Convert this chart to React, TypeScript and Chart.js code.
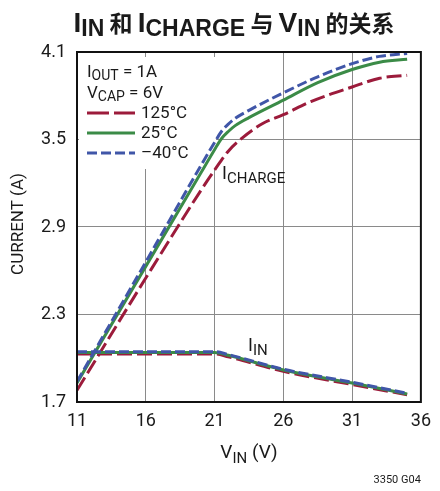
import React, { useEffect, useRef } from "react";
import { Chart, registerables } from "chart.js";

Chart.register(...registerables);

// ---------- data ----------
const xTicks = [11, 16, 21, 26, 31, 36];
const yTicks = [1.7, 2.3, 2.9, 3.5, 4.1];

// I_CHARGE vs V_IN
const chargeX125 = [11, 16, 20, 21, 22, 23, 24.5, 26, 28, 31, 33, 35];
const charge125 = [1.78, 2.55, 3.15, 3.29, 3.42, 3.51, 3.61, 3.67, 3.76, 3.86, 3.92, 3.94];
const chargeX25 = [11, 16, 20, 21, 21.5, 22, 22.5, 23.5, 26, 28.5, 31, 33, 35];
const charge25 = [1.83, 2.63, 3.27, 3.43, 3.505, 3.555, 3.595, 3.65, 3.77, 3.89, 3.98, 4.03, 4.05];
const chargeXm40 = [11, 16, 20, 21, 21.5, 22, 22.5, 23.5, 26, 28.5, 31, 33, 35];
const chargem40 = [1.84, 2.66, 3.32, 3.48, 3.555, 3.605, 3.645, 3.7, 3.82, 3.93, 4.02, 4.07, 4.09];

// I_IN vs V_IN
const inX = [11, 21, 22, 26, 31, 35];
const in125 = [2.03, 2.03, 2.01, 1.91, 1.82, 1.75];
const in25 = [2.04, 2.04, 2.02, 1.92, 1.83, 1.755];
const inm40 = [2.045, 2.045, 2.025, 1.925, 1.835, 1.76];

const seriesLabels = ["125°C", "25°C", "–40°C"];

// ---------- styles ----------
const RED = "#9c1b3b";
const GREEN = "#3b8b47";
const BLUE = "#4056a8";
const FONT = "Roboto, 'Liberation Sans', sans-serif";
const TITLE_FONT = "'Liberation Sans', Arial, sans-serif";
const CJK_FONT = "'Noto Sans CJK SC', sans-serif";
const TEXT = "#1a1a1a";

type Part = { t: string; sub?: boolean; cjk?: boolean };

function drawRich(
  ctx: CanvasRenderingContext2D,
  parts: Part[],
  x: number,
  y: number,
  o: {
    size: number;
    subSize: number;
    subDy: number;
    align?: "left" | "center" | "right";
    weight?: string;
    family?: string;
    cjkFamily?: string;
    cjkSize?: number;
  }
) {
  const weight = o.weight || "normal";
  const family = o.family || FONT;
  const fontOf = (p: Part) =>
    `${weight} ${p.sub ? o.subSize : p.cjk ? o.cjkSize || o.size : o.size}px ${
      p.cjk ? o.cjkFamily || CJK_FONT : family
    }`;
  let w = 0;
  for (const p of parts) {
    ctx.font = fontOf(p);
    w += ctx.measureText(p.t).width;
  }
  let cx = o.align === "center" ? x - w / 2 : o.align === "right" ? x - w : x;
  ctx.textAlign = "left";
  ctx.textBaseline = "alphabetic";
  for (const p of parts) {
    ctx.font = fontOf(p);
    ctx.fillText(p.t, cx, y + (p.sub ? o.subDy : 0));
    cx += ctx.measureText(p.t).width;
  }
}

const pts = (xs: number[], ys: number[]) => xs.map((x, i) => ({ x, y: ys[i] }));

const styles = [
  { color: RED, dash: [15, 5] },
  { color: GREEN, dash: [] as number[] },
  { color: BLUE, dash: [10, 4] },
];

const textPlugin = {
  id: "richTexts",
  beforeDatasetsDraw(chart: any) {
    const { ctx, chartArea } = chart;
    ctx.save();
    ctx.fillStyle = "#ffffff";
    ctx.fillRect(chartArea.left + 2, chartArea.top + 5, 137, 112);
    ctx.restore();
  },
  afterDatasetsDraw(chart: any) {
    const { ctx, chartArea } = chart;
    const { left, top, right, bottom } = chartArea;
    ctx.save();
    ctx.strokeStyle = "#111";
    ctx.lineWidth = 2;
    ctx.strokeRect(left, top, right - left, bottom - top);
    ctx.restore();
  },
  afterDraw(chart: any) {
    const { ctx, chartArea } = chart;
    const { left, top, right, bottom } = chartArea;
    ctx.save();
    ctx.fillStyle = TEXT;

    // title
    drawRich(
      ctx,
      [
        { t: "I" },
        { t: "IN", sub: true },
        { t: " 和 ", cjk: true },
        { t: "I" },
        { t: "CHARGE", sub: true },
        { t: " 与 ", cjk: true },
        { t: "V" },
        { t: "IN", sub: true },
        { t: " 的关系", cjk: true },
      ],
      234,
      32,
      { size: 28, subSize: 23, subDy: 4, align: "center", weight: "bold", family: TITLE_FONT, cjkSize: 23 }
    );

    // legend block
    const lx = left + 10;
    drawRich(ctx, [{ t: "I" }, { t: "OUT", sub: true }, { t: " = 1A" }], lx, top + 25, {
      size: 17,
      subSize: 14,
      subDy: 3,
    });
    drawRich(ctx, [{ t: "V" }, { t: "CAP", sub: true }, { t: " = 6V" }], lx, top + 46, {
      size: 17,
      subSize: 14,
      subDy: 3,
    });
    const rowY = [top + 61, top + 81, top + 101];
    for (let i = 0; i < 3; i++) {
      ctx.save();
      ctx.strokeStyle = styles[i].color;
      ctx.lineWidth = 3;
      ctx.setLineDash(i === 0 ? [22, 5] : styles[i].dash);
      ctx.beginPath();
      ctx.moveTo(lx, rowY[i]);
      ctx.lineTo(lx + 48, rowY[i]);
      ctx.stroke();
      ctx.restore();
      ctx.font = `17px ${FONT}`;
      ctx.textAlign = "left";
      ctx.textBaseline = "middle";
      ctx.fillText(seriesLabels[i], lx + 54, rowY[i] + 1);
    }

    // curve annotations
    drawRich(ctx, [{ t: "I" }, { t: "CHARGE", sub: true }], 222, 179, { size: 18, subSize: 15, subDy: 4 });
    drawRich(ctx, [{ t: "I" }, { t: "IN", sub: true }], 248, 351, { size: 18, subSize: 15, subDy: 4 });

    // x axis title
    drawRich(ctx, [{ t: "V" }, { t: "IN", sub: true }, { t: " (V)" }], (left + right) / 2, 458, {
      size: 19,
      subSize: 15,
      subDy: 5,
      align: "center",
    });

    // y axis title
    ctx.save();
    ctx.translate(19, (top + bottom) / 2 - 3);
    ctx.rotate(-Math.PI / 2);
    ctx.font = `17px ${FONT}`;
    ctx.textAlign = "center";
    ctx.textBaseline = "middle";
    ctx.fillText("CURRENT (A)", 0, 0);
    ctx.restore();

    // figure code
    ctx.font = `11px ${FONT}`;
    ctx.textAlign = "right";
    ctx.textBaseline = "alphabetic";
    ctx.fillText("3350 G04", right, 483);

    ctx.restore();
  },
};

export default function App() {
  const ref = useRef<HTMLCanvasElement | null>(null);

  useEffect(() => {
    if (!ref.current) return;
    const mk = (data: { x: number; y: number }[], i: number) => ({
      data,
      borderColor: styles[i].color,
      borderDash: styles[i].dash,
      borderWidth: 3,
      pointRadius: 0,
      fill: false,
      cubicInterpolationMode: "monotone" as const,
    });
    const chart = new Chart(ref.current, {
      type: "line",
      data: {
        datasets: [
          mk(pts(chargeXm40, chargem40), 2),
          mk(pts(inX, inm40), 2),
          mk(pts(chargeX25, charge25), 1),
          mk(pts(inX, in25), 1),
          mk(pts(chargeX125, charge125), 0),
          mk(pts(inX, in125), 0),
        ],
      },
      options: {
        responsive: false,
        animation: false,
        devicePixelRatio: 1,
        layout: { padding: { top: 52, right: 12, left: 0, bottom: 0 } },
        plugins: { legend: { display: false }, tooltip: { enabled: false }, title: { display: false } },
        scales: {
          x: {
            type: "linear",
            min: 11,
            max: 36,
            afterFit: (s: any) => {
              s.height = 89;
            },
            afterBuildTicks: (s: any) => {
              s.ticks = xTicks.map((v) => ({ value: v }));
            },
            grid: { color: "#8a8a8a", lineWidth: 1, drawTicks: false },
            border: { display: false },
            ticks: {
              padding: 9,
              color: TEXT,
              font: { family: FONT, size: 18 },
              maxRotation: 0,
              callback: (v: any) => String(v),
            },
          },
          y: {
            type: "linear",
            min: 1.7,
            max: 4.1,
            afterFit: (s: any) => {
              s.width = 77;
            },
            afterBuildTicks: (s: any) => {
              s.ticks = yTicks.map((v) => ({ value: v }));
            },
            grid: { color: "#8a8a8a", lineWidth: 1, drawTicks: false },
            border: { display: false },
            ticks: {
              padding: 11,
              color: TEXT,
              font: { family: FONT, size: 18 },
              callback: (v: any) => Number(v).toFixed(1),
            },
          },
        },
      },
      plugins: [textPlugin],
    });
    return () => chart.destroy();
  }, []);

  return (
    <div style={{ position: "fixed", left: 0, top: 0, width: 440, height: 491, background: "#fff" }}>
      <canvas ref={ref} width={440} height={491} style={{ display: "block", width: 440, height: 491 }} />
    </div>
  );
}
